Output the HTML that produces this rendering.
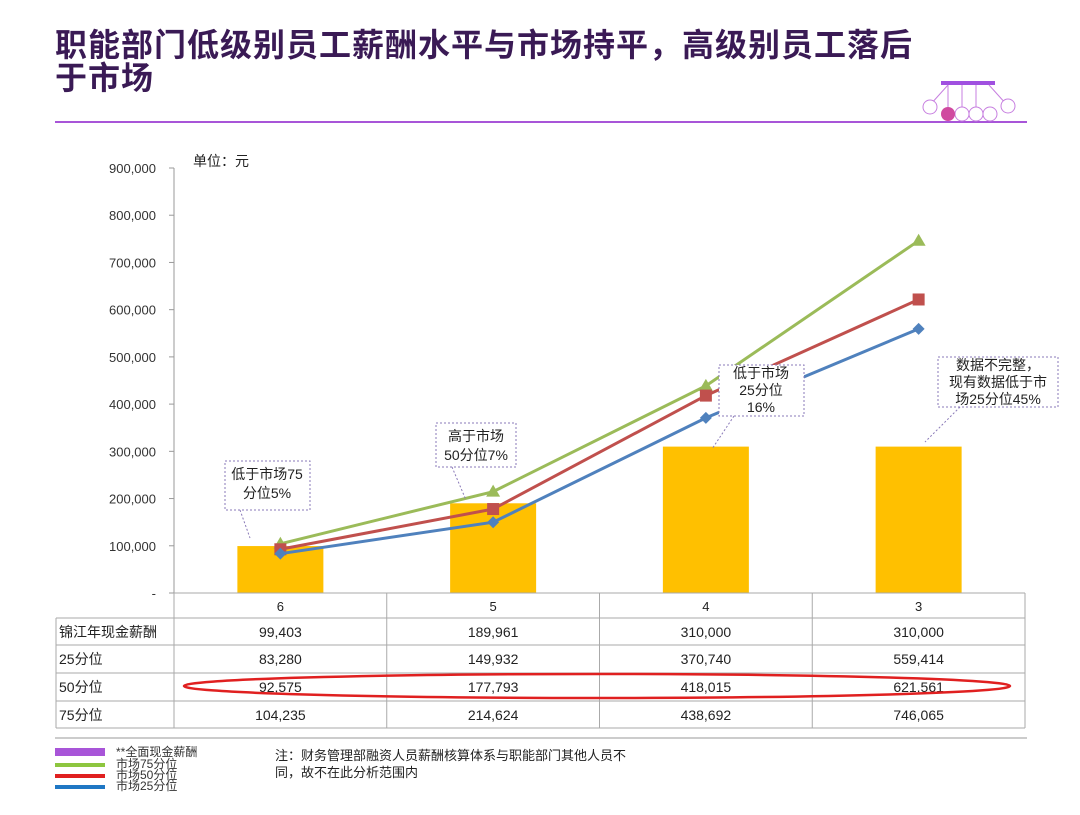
<!DOCTYPE html>
<html><head><meta charset="utf-8"><style>
body{margin:0;width:1080px;height:810px;background:#fff;overflow:hidden;font-family:"Liberation Sans","Noto Sans CJK SC",sans-serif;}
svg text{font-family:"Liberation Sans","Noto Sans CJK SC",sans-serif;}
</style></head><body>
<svg id="chart" width="1080" height="810">
<text x="55" y="56" font-size="32" font-weight="bold" letter-spacing="1" fill="#3a1a55">职能部门低级别员工薪酬水平与市场持平，高级别员工落后</text>
<text x="55" y="89" font-size="32" font-weight="bold" letter-spacing="1" fill="#3a1a55">于市场</text>
<line x1="55" y1="122" x2="1027" y2="122" stroke="#a855d8" stroke-width="2"/>
<g fill="none" stroke="#c77fe0">
<rect x="941" y="81" width="54" height="4" fill="#a050e0" stroke="none"/>
<line x1="948" y1="85" x2="930" y2="105"/><line x1="948" y1="85" x2="948" y2="110"/><line x1="962" y1="85" x2="962" y2="110"/><line x1="976" y1="85" x2="976" y2="110"/><line x1="989" y1="85" x2="1007" y2="105"/>
<circle cx="930" cy="107" r="7" fill="#fff"/><circle cx="962" cy="114" r="7" fill="#fff"/><circle cx="976" cy="114" r="7" fill="#fff"/><circle cx="990" cy="114" r="7" fill="#fff"/><circle cx="1008" cy="106" r="7" fill="#fff"/>
<circle cx="948" cy="114" r="7" fill="#d04aa0" stroke="none"/>
</g>
<text x="193" y="166" font-size="14" fill="#222">单位：元</text>
<g id="axis"></g><g id="bars"></g><g id="lines"></g><g id="table"></g>
<g font-size="14" fill="#222">
<g stroke="#8a7ab8" stroke-dasharray="2,2" fill="none">
<rect x="225" y="461" width="85" height="49" fill="#fff"/><line x1="240" y1="510" x2="250" y2="538"/>
<rect x="436" y="423" width="80" height="44" fill="#fff"/><line x1="452" y1="467" x2="466" y2="500"/>
<rect x="719" y="365" width="85" height="51" fill="#fff"/><line x1="734" y1="416" x2="712" y2="449"/>
<rect x="938" y="357" width="120" height="50" fill="#fff"/><line x1="960" y1="407" x2="925" y2="442"/>
</g>
<text x="267" y="479" text-anchor="middle">低于市场75</text><text x="267" y="498" text-anchor="middle">分位5%</text>
<text x="476" y="441" text-anchor="middle">高于市场</text><text x="476" y="460" text-anchor="middle">50分位7%</text>
<text x="761" y="378" text-anchor="middle">低于市场</text><text x="761" y="395" text-anchor="middle">25分位</text><text x="761" y="412" text-anchor="middle">16%</text>
<text x="998" y="370" text-anchor="middle">数据不完整，</text><text x="998" y="387" text-anchor="middle">现有数据低于市</text><text x="998" y="404" text-anchor="middle">场25分位45%</text>
</g>
<ellipse cx="597" cy="686" rx="413" ry="12" fill="none" stroke="#e02020" stroke-width="2.5"/>
<line x1="55" y1="738" x2="1027" y2="738" stroke="#999"/>
<g font-size="12" fill="#333">
<rect x="55" y="748" width="50" height="8" fill="#a855d8"/><text x="116" y="756">**全面现金薪酬</text>
<rect x="55" y="763" width="50" height="4" fill="#8dc63f"/><text x="116" y="768">市场75分位</text>
<rect x="55" y="774" width="50" height="4" fill="#e02020"/><text x="116" y="779">市场50分位</text>
<rect x="55" y="785" width="50" height="4" fill="#1f77c4"/><text x="116" y="790">市场25分位</text>
</g>
<text x="275" y="760" font-size="13" fill="#222">注：财务管理部融资人员薪酬核算体系与职能部门其他人员不</text>
<text x="275" y="777" font-size="13" fill="#222">同，故不在此分析范围内</text>
</svg>
<script>
const categories=["6","5","4","3"];
const cash=[99403,189961,310000,310000];
const p25=[83280,149932,370740,559414];
const p50=[92575,177793,418015,621561];
const p75=[104235,214624,438692,746065];
const yTicks=[0,100000,200000,300000,400000,500000,600000,700000,800000,900000];
const NS="http://www.w3.org/2000/svg";
const X0=174,X1=1025,Y0=593,YT=168,YMAX=900000;
const bw=(X1-X0)/categories.length;
const xc=i=>X0+bw*(i+0.5);
const y=v=>Y0-(v/YMAX)*(Y0-YT);
function mk(tag,attrs,parent,txt){const e=document.createElementNS(NS,tag);for(const k in attrs)e.setAttribute(k,attrs[k]);if(txt!==undefined)e.textContent=txt;parent.appendChild(e);return e;}
const fmt=v=>v.toLocaleString('en-US');
const ax=document.getElementById('axis');
mk('line',{x1:X0,y1:YT,x2:X0,y2:Y0,stroke:'#999'},ax);
yTicks.forEach(t=>{mk('line',{x1:X0-5,y1:y(t),x2:X0,y2:y(t),stroke:'#999'},ax);
const tx=mk('text',{x:X0-18,y:y(t)+5,'text-anchor':'end','font-size':13,fill:'#333'},ax,t===0?'-':fmt(t));

});
const bg=document.getElementById('bars');
cash.forEach((v,i)=>{const r=mk('rect',{x:xc(i)-43,y:y(v),width:86,height:Y0-y(v),fill:'#ffc000'},bg);

});
const lg=document.getElementById('lines');
function series(data,color,shape,name){
const pl=mk('polyline',{points:data.map((v,i)=>xc(i)+','+y(v)).join(' '),fill:'none',stroke:color,'stroke-width':3},lg);


data.forEach((v,i)=>{const cx=xc(i),cy=y(v);let m;
if(shape==='tri')m=mk('polygon',{points:`${cx},${cy-7} ${cx-7},${cy+5} ${cx+7},${cy+5}`,fill:color},lg);
else if(shape==='sq')m=mk('rect',{x:cx-6,y:cy-6,width:12,height:12,fill:color},lg);
else m=mk('polygon',{points:`${cx},${cy-6} ${cx+6},${cy} ${cx},${cy+6} ${cx-6},${cy}`,fill:color},lg);

});}
series(p75,'#9bbb59','tri','p75');
series(p50,'#c0504d','sq','p50');
series(p25,'#4f81bd','dia','p25');
const tb=document.getElementById('table');
const rows=[["锦江年现金薪酬",cash],["25分位",p25],["50分位",p50],["75分位",p75]];
const rY=[593,618,645,673,701,728];
const L=56;
mk('line',{x1:X0,y1:Y0,x2:X1,y2:Y0,stroke:'#aaa'},tb);
for(let j=1;j<rY.length;j++)mk('line',{x1:L,y1:rY[j],x2:X1,y2:rY[j],stroke:'#aaa'},tb);
mk('line',{x1:L,y1:rY[1],x2:L,y2:rY[5],stroke:'#aaa'},tb);
for(let i=0;i<=categories.length;i++)mk('line',{x1:X0+bw*i,y1:Y0,x2:X0+bw*i,y2:rY[5],stroke:'#aaa'},tb);
categories.forEach((c,i)=>{const t=mk('text',{x:xc(i),y:611,'text-anchor':'middle','font-size':13,fill:'#222'},tb,c);

});
rows.forEach((r,j)=>{const yy=rY[j+1]+19;
const h=mk('text',{x:L+3,y:yy,'font-size':14,fill:'#222'},tb,r[0]);


r[1].forEach((v,i)=>{const t=mk('text',{x:xc(i),y:yy,'text-anchor':'middle','font-size':14,fill:'#222'},tb,fmt(v));

});});
</script>
</body></html>
